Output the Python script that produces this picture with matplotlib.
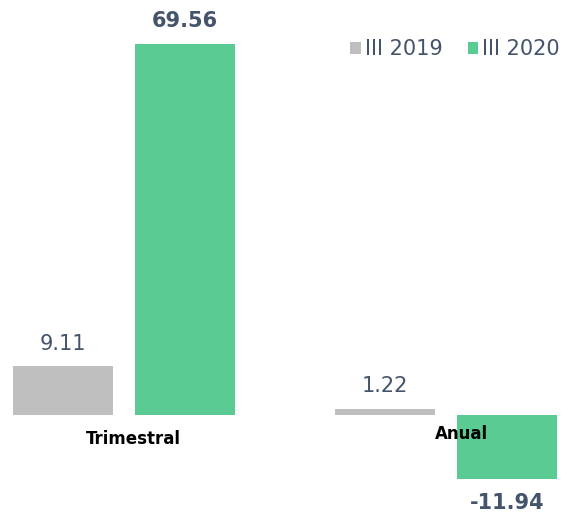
import matplotlib.pyplot as plt
import numpy as np

categorias = ['Trimestral', 'Anual']
series = ['III 2019', 'III 2020']
valores_2019 = [9.11, 1.22]
valores_2020 = [69.56, -11.94]
colores = ['#BFBFBF', '#5BCB94']
texto_color = '#44546A'

plt.rcParams['font.family'] = ['DejaVu Sans']

fig = plt.figure(figsize=(5.73, 5.17), dpi=100)
ax = fig.add_axes([0, 0, 1, 1])

x = np.arange(len(categorias))
ancho = 0.311
desp = 0.19

b1 = ax.bar(x - desp, valores_2019, ancho, color=colores[0], label=series[0])
b2 = ax.bar(x + desp, valores_2020, ancho, color=colores[1], label=series[1])

# etiquetas de valor
for barra, v in zip(b1, valores_2019):
    ax.annotate(f'{v:.2f}', (barra.get_x() + barra.get_width() / 2, v),
                xytext=(0, 9), textcoords='offset points', ha='center', va='bottom',
                fontsize=15, color=texto_color)
for barra, v in zip(b2, valores_2020):
    off = 9 if v >= 0 else -10
    ax.annotate(f'{v:.2f}', (barra.get_x() + barra.get_width() / 2, v),
                xytext=(0, off), textcoords='offset points', ha='center',
                va='bottom' if v >= 0 else 'top',
                fontsize=15, fontweight='bold', color=texto_color)

# etiquetas de categoria
ax.text(x[0] + 0.03, -2.8, categorias[0], ha='center', va='top', fontsize=12,
        fontweight='bold', color='black')
ax.text(x[1] + 0.05, -1.8, categorias[1], ha='center', va='top', fontsize=12,
        fontweight='bold', color='black')

ax.set_xlim(-0.386, 1.396)
ax.set_ylim(-19.12, 77.8)
ax.axis('off')

ax.legend(loc='upper right', bbox_to_anchor=(1.01, 0.96), ncol=2, frameon=False,
          fontsize=15, handlelength=0.5, handleheight=0.5, handletextpad=0.2,
          columnspacing=1.2, labelcolor=texto_color)

fig.savefig('out.png', dpi=100)
